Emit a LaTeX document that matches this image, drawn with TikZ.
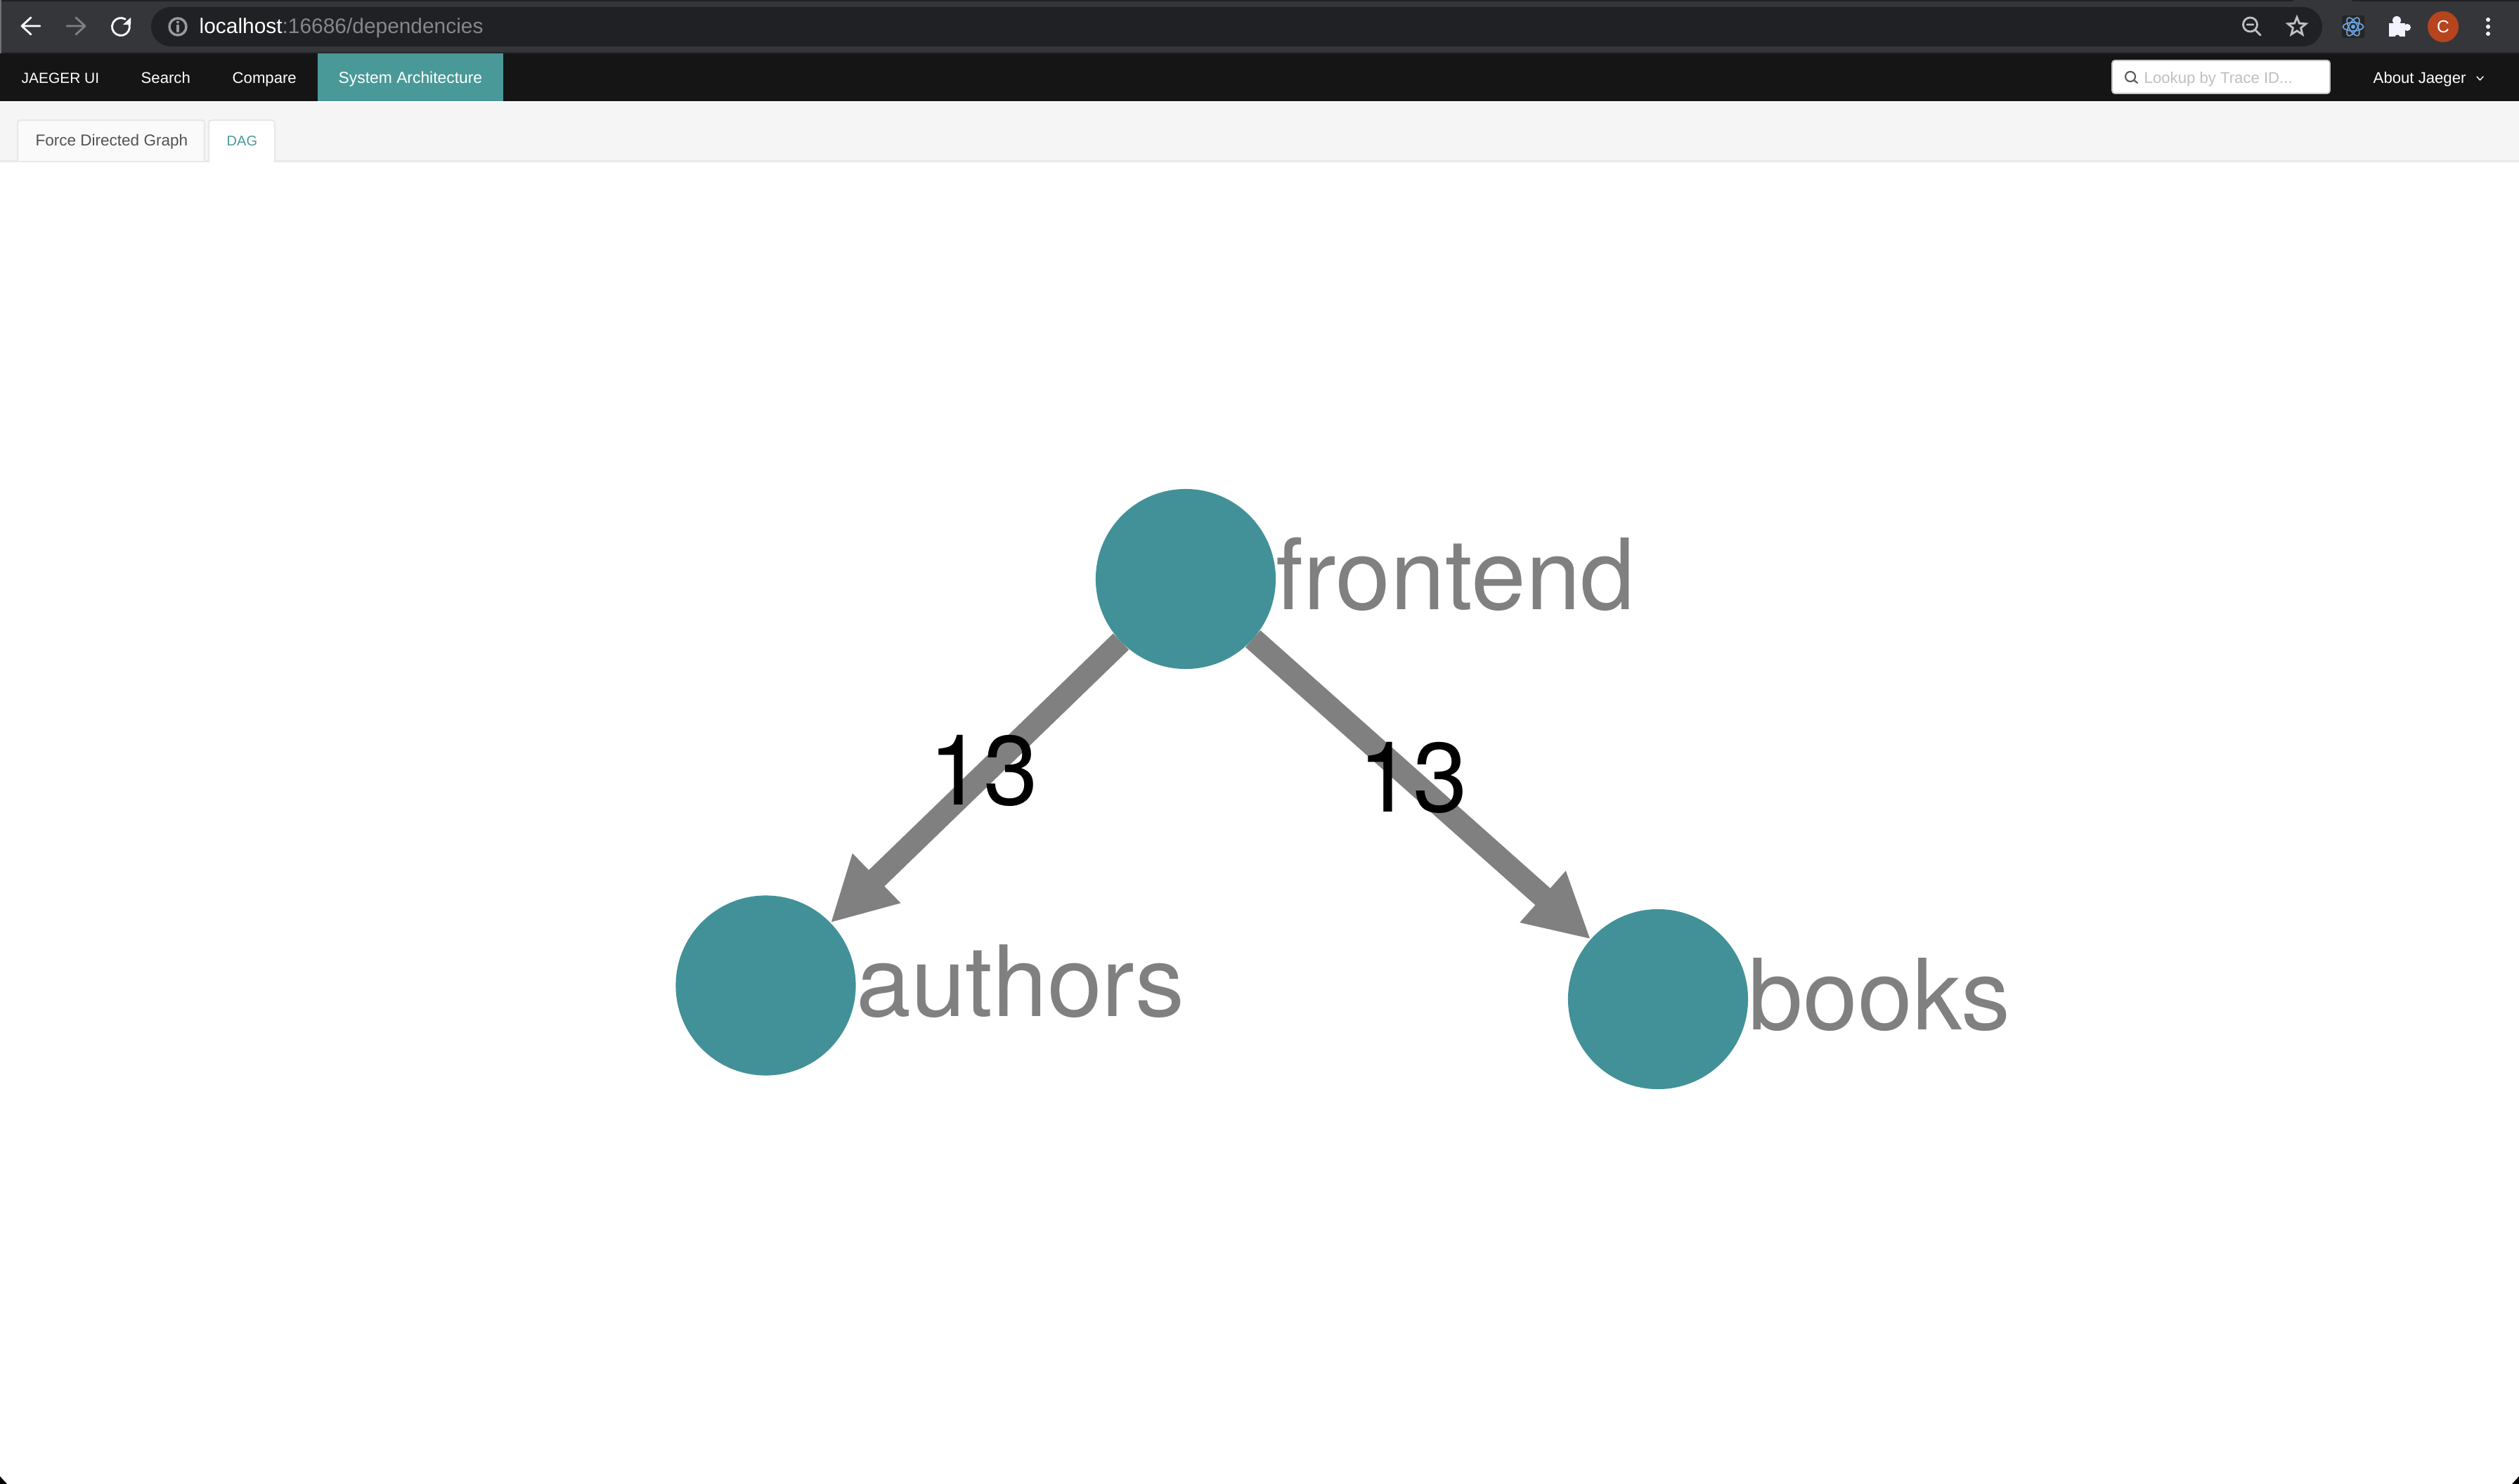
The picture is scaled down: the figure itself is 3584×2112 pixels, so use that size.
\documentclass[tikz,border=0pt]{standalone}
\usepackage{fontspec}
\usepackage{xcolor}
\setmainfont{Liberation Sans}
\newfontfamily\graphfont{TeX Gyre Heros}
\usetikzlibrary{positioning, arrows.meta, shapes.geometric}

\definecolor{chromebar}{HTML}{35363A}
\definecolor{chromedark}{HTML}{202124}
\definecolor{chromeicon}{HTML}{BDC1C6}
\definecolor{navblack}{HTML}{151515}
\definecolor{navteal}{HTML}{4A9999}
\definecolor{nodeteal}{HTML}{429198}
\definecolor{edgegrey}{HTML}{808080}
\definecolor{tabline}{HTML}{E8E8E8}

\begin{document}
\begin{tikzpicture}[
        x=0.01cm, y=-0.01cm,
        svc/.style={circle, fill=nodeteal, minimum size=2.56cm, inner sep=0pt, outer sep=0pt},
        svclabel/.style={font=\graphfont\fontsize{39.8}{44}\selectfont, text=edgegrey, inner sep=0pt, text height=25pt, text depth=0pt},
        edgecount/.style={font=\graphfont\fontsize{39.8}{44}\selectfont, text=black, inner sep=0pt},
        flow/.style={edgegrey, line width=9.1pt, -{Triangle[length=26pt, width=26pt]}},
        uitext/.style={font=\fontsize{6.3}{8}\selectfont, anchor=base west, inner sep=0pt, text=white},
        icon/.style={line width=0.8pt, line cap=round, line join=round},
        tabbox/.style={draw=tabline, line width=0.6pt, rounded corners=0.04cm}
    ]
        \useasboundingbox (0,0) rectangle (3584,2112);
        \fill[white] (0,0) rectangle (3584,2112);

        % browser chrome
        \fill[chromebar] (0,0) rectangle (3584,76);
        \fill[chromedark] (0,0) rectangle (3263,2);
        \fill[chromedark] (3347,0) rectangle (3584,2);
        \fill[chromebar!75!black] (0,74) rectangle (3584,76);
        \fill[chromebar!70!white] (0,0) rectangle (2,76);
        \fill[chromedark, rounded corners=0.28cm] (215,10) rectangle (3304,66);

        \draw[icon, white] (57,37) -- (31,37) (44,25) -- (31,37) -- (44,49);
        \draw[icon, gray] (95,37) -- (121,37) (108,25) -- (121,37) -- (108,49);
        \draw[icon, white] (178.2,27.2) arc[start angle=60, end angle=375, radius=0.125cm];
        \fill[white] (175,35) -- (186,35) -- (186,25) -- cycle;
        \draw[icon, chromeicon!80!black, line width=1pt] (253,38) circle[radius=0.12cm];
        \draw[icon, chromeicon!80!black, line width=1pt] (253,36.5) -- (253,44.5);
        \fill[chromeicon!80!black] (253,31.5) circle[radius=0.02cm];

        \node[uitext, font=\fontsize{8.5}{10}\selectfont] (url) at (283,47.5) {localhost\textcolor{chromeicon!70!black}{:16686/dependencies}};

        \draw[icon, chromeicon] (3201.5,35) circle[radius=0.1cm] (3197,35) -- (3206,35) (3209,43) -- (3216,50);
        \node[star, star points=5, star point ratio=2.3, draw=chromeicon, line width=0.8pt, minimum size=0.27cm, inner sep=0pt] (bookmark) at (3268,38) {};

        \fill[black!85, rounded corners=0.03cm] (3332,22) rectangle (3364,54);
        \foreach \tilt in {0,60,120}
            \draw[cyan!60!blue!60!white, line width=0.5pt, rotate around={\tilt:(3348,38)}] (3348,38) ellipse[x radius=0.145cm, y radius=0.06cm];
        \fill[cyan!60!blue!60!white] (3348,38) circle[radius=0.03cm];

        % puzzle piece
        \fill[white!95!blue] (3399,33) rectangle (3422,52);
        \fill[white!95!blue] (3410,29) circle[radius=0.06cm] (3425,39) circle[radius=0.05cm];
        \fill[chromebar] (3411,53) circle[radius=0.035cm];

        \node[circle, fill={rgb,255:red,181;green,68;blue,31}, minimum size=0.44cm, inner sep=0pt, text=white, font=\fontsize{7}{8}\selectfont] (avatar) at (3476,38) {C};
        \foreach \doty in {28,38,48}
            \fill[white!95!blue] (3540,\doty) circle[radius=0.03cm];

        % jaeger nav bar
        \fill[navblack] (0,76) rectangle (3584,144);
        \fill[navteal] (452,76) rectangle (716,144);
        \node[uitext, font=\fontsize{5.95}{8}\selectfont] (brand) at (30,118) {JAEGER UI};
        \node[uitext] (search) at (200,118) {Search};
        \node[uitext] (compare) at (330,118) {Compare};
        \node[uitext, font=\fontsize{6.5}{8}\selectfont] (sysarch) at (481,118) {System Architecture};

        \fill[white, draw=tabline!85!black, line width=0.5pt, rounded corners=0.04cm] (3005,86) rectangle (3315,133);
        \draw[icon, black!65, line width=0.6pt] (3031,109) circle[radius=0.07cm] (3036,114) -- (3041,118);
        \node[uitext, text=black!25] (lookup) at (3050,118) {Lookup by Trace ID...};
        \node[uitext] (about) at (3376,118) {About Jaeger};
        \draw[icon, white, line width=0.4pt] (3524,109) -- (3528.5,114) -- (3533,109);

        % tab strip
        \fill[white] (0,144) rectangle (3584,146);
        \fill[black!4] (0,146) rectangle (3584,228);
        \fill[tabline] (0,228) rectangle (3584,231);
        \path[tabbox, fill=black!2] (25,229) -- (25,171) -- (291,171) -- (291,229);
        \path[tabbox, fill=white] (297,231) -- (297,171) -- (391,171) -- (391,231);
        \node[uitext, text=black!68, font=\fontsize{6.4}{8}\selectfont] (forcetab) at (50,207) {Force Directed Graph};
        \node[uitext, text=navteal, font=\fontsize{5.7}{8}\selectfont] (dagtab) at (322,207) {DAG};

        % graph
        \node[svc] (frontend) at (1687,824) {};
        \node[svc] (authors) at (1089.5,1402.5) {};
        \node[svc] (books) at (2359,1422) {};

        \node[svclabel, right=0pt of frontend] (frontendname) {frontend};
        \node[svclabel, right=0pt of authors] (authorsname) {authors};
        \node[svclabel, right=0pt of books] (booksname) {books};

        \draw[flow] (frontend) -- node[edgecount, xshift=0.11cm, yshift=0.16cm] {13} (authors);
        \draw[flow] (frontend) -- node[edgecount, xshift=-0.13cm, yshift=0.16cm] {13} (books);

        % screen corners
        \fill[black] (0,2112) -- (0,2101) -- (10,2112) -- cycle;
        \fill[black] (3584,2112) -- (3584,2101) -- (3574,2112) -- cycle;
    \end{tikzpicture}
\end{document}
